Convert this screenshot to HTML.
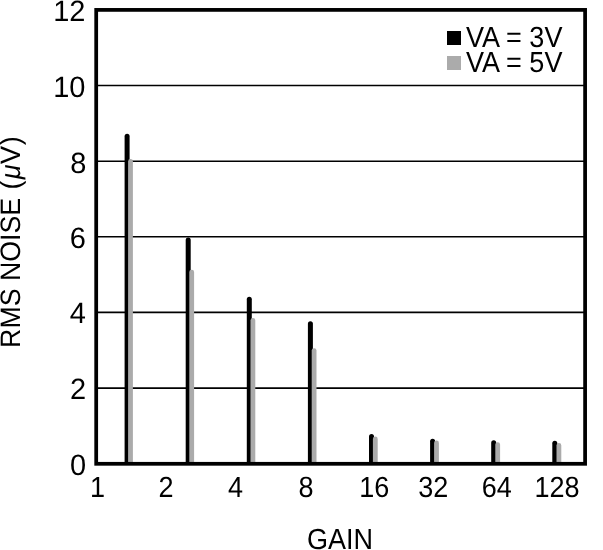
<!DOCTYPE html>
<html>
<head>
<meta charset="utf-8">
<title>RMS Noise vs Gain</title>
<style>
html,body{margin:0;padding:0;background:#fff;}
body{width:603px;height:550px;overflow:hidden;}
svg{display:block;will-change:transform;filter:grayscale(1);}
text{font-family:"Liberation Sans",Arial,Helvetica,sans-serif;font-size:29.1px;fill:#000;text-rendering:geometricPrecision;}
</style>
</head>
<body>
<svg width="603" height="550" viewBox="0 0 603 550">
<rect x="0" y="0" width="603" height="550" fill="#fff"/>
<!-- gridlines -->
<g stroke="#000" stroke-width="1.6" fill="none">
<line x1="96" y1="85.5" x2="585" y2="85.5"/>
<line x1="96" y1="161.2" x2="585" y2="161.2"/>
<line x1="96" y1="236.8" x2="585" y2="236.8"/>
<line x1="96" y1="312.4" x2="585" y2="312.4"/>
<line x1="96" y1="388.1" x2="585" y2="388.1"/>
</g>
<!-- bars -->
<g stroke-width="5" fill="none" stroke-linecap="round">
<g stroke="#000">
<line x1="127.1" y1="136.2" x2="127.1" y2="462"/>
<line x1="188.2" y1="240.1" x2="188.2" y2="462"/>
<line x1="249.3" y1="299.3" x2="249.3" y2="462"/>
<line x1="310.4" y1="323.7" x2="310.4" y2="462"/>
<line x1="371.5" y1="436.6" x2="371.5" y2="462"/>
<line x1="432.6" y1="441.2" x2="432.6" y2="462"/>
<line x1="493.7" y1="442.7" x2="493.7" y2="462"/>
<line x1="554.8" y1="443.2" x2="554.8" y2="462"/>
</g>
<g stroke="#ababab" stroke-width="4.8">
<line x1="130.5" y1="161.4" x2="130.5" y2="462"/>
<line x1="191.7" y1="272.1" x2="191.7" y2="462"/>
<line x1="252.9" y1="320.4" x2="252.9" y2="462"/>
<line x1="314.1" y1="350.6" x2="314.1" y2="462"/>
<line x1="375.3" y1="438.9" x2="375.3" y2="462"/>
<line x1="436.5" y1="442.9" x2="436.5" y2="462"/>
<line x1="497.7" y1="444.7" x2="497.7" y2="462"/>
<line x1="558.9" y1="445.5" x2="558.9" y2="462"/>
</g>
</g>
<!-- frame -->
<rect x="96.2" y="9.9" width="488.9" height="453.9" fill="none" stroke="#000" stroke-width="3.75"/>
<!-- legend -->
<rect x="447" y="31" width="14" height="14" fill="#000"/>
<rect x="447" y="56" width="14" height="14" fill="#ababab"/>
<text transform="translate(466,46.7) scale(0.929,1)">VA = 3V</text>
<text transform="translate(466,71.8) scale(0.929,1)">VA = 5V</text>
<!-- y labels -->
<g text-anchor="end">
<text transform="translate(85.5,20.65) scale(0.986,1)" style="font-size:29.4px">12</text>
<text transform="translate(85.5,96.95) scale(0.986,1)" style="font-size:29.4px">10</text>
<text transform="translate(86.3,172.5) scale(0.986,1)" style="font-size:29.4px">8</text>
<text transform="translate(86,248.05) scale(0.986,1)" style="font-size:29.4px">6</text>
<text transform="translate(86,323.05) scale(0.986,1)" style="font-size:29.4px">4</text>
<text transform="translate(86.2,399.05) scale(0.986,1)" style="font-size:29.4px">2</text>
<text transform="translate(86.2,475.35) scale(0.986,1)" style="font-size:29.4px">0</text>
</g>
<!-- x labels -->
<g text-anchor="middle">
<text transform="translate(97.4,497) scale(0.929,1)">1</text>
<text transform="translate(166.1,497) scale(0.929,1)">2</text>
<text transform="translate(235.6,497) scale(0.929,1)">4</text>
<text transform="translate(306,497) scale(0.929,1)">8</text>
<text transform="translate(374.2,497) scale(0.929,1)">16</text>
<text transform="translate(433.3,497) scale(0.929,1)">32</text>
<text transform="translate(496.7,497) scale(0.929,1)">64</text>
<text transform="translate(557.1,497) scale(0.929,1)">128</text>
<text transform="translate(340,548.7) scale(0.929,1)">GAIN</text>
</g>
<text transform="translate(20.3,347.9) rotate(-90) scale(0.951,1)" style="font-size:28.1px">RMS NOISE</text>
<text transform="translate(20.3,136.3) rotate(-90) scale(0.961,1)" text-anchor="end" style="font-size:28.1px">(<tspan font-style="italic" dx="1.2">μ</tspan><tspan dx="0.6">V</tspan><tspan dx="0.7">)</tspan></text>
</svg>
</body>
</html>
